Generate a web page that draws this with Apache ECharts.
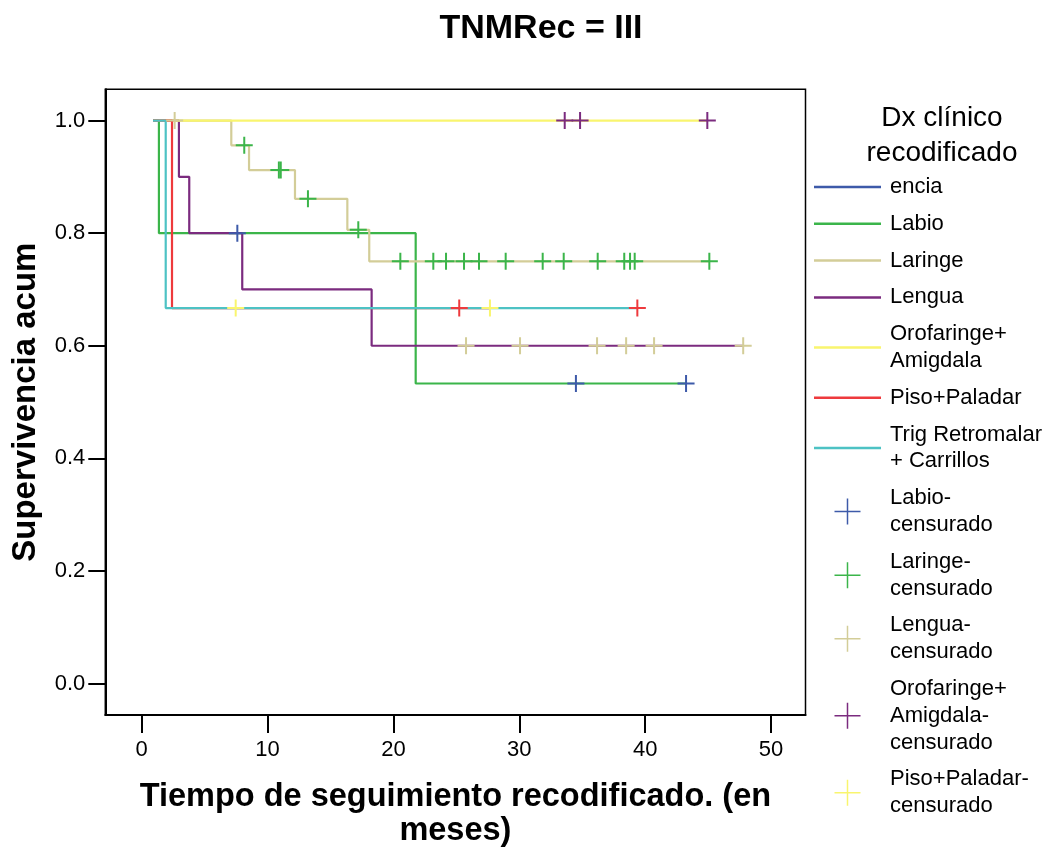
<!DOCTYPE html>
<html>
<head>
<meta charset="utf-8">
<script src="https://cdn.jsdelivr.net/npm/echarts@6/dist/echarts.min.js"></script>
<style>
  html, body { margin: 0; padding: 0; background: #fff; }
  #chart { width: 1058px; height: 853px; }
</style>
</head>
<body>
<div id="chart"></div>
<script>
// Kaplan-Meier step curves: [time, cumulative survival] at each step
const labioCurve   = [[0.9, 1], [1.37, 0.8], [21.77, 0.533], [43.25, 0.533]];
const laringeCurve = [[0.9, 1], [7.12, 0.956], [8.53, 0.912], [12.18, 0.861], [16.34, 0.806], [18.08, 0.75], [45.1, 0.75]];
const lenguaCurve  = [[0.9, 1], [2.96, 0.9], [3.78, 0.8], [7.99, 0.7], [18.27, 0.6], [47.79, 0.6]];
const oroCurve     = [[0.9, 1], [44.94, 1]];
const pisoCurve    = [[0.9, 1], [2.41, 0.667], [27.67, 0.667]];
const trigCurve    = [[0.9, 1], [1.91, 0.667], [39.38, 0.667]];
const enciaCurve   = [];

// Censored observations
const labioCens   = [[7.6, 0.8], [34.5, 0.533], [43.25, 0.533]];
const laringeCens = [[8.15, 0.956], [10.9, 0.912], [11.05, 0.912], [13.21, 0.861], [17.21, 0.806],
                     [20.55, 0.75], [23.17, 0.75], [24.18, 0.75], [25.61, 0.75], [26.8, 0.75], [28.92, 0.75],
                     [31.86, 0.75], [33.53, 0.75], [36.23, 0.75], [38.34, 0.75], [38.8, 0.75], [39.17, 0.75], [45.1, 0.75]];
const lenguaCens  = [[2.62, 1], [25.77, 0.6], [30.06, 0.6], [36.18, 0.6], [38.49, 0.6], [40.71, 0.6], [47.79, 0.6]];
const oroCens     = [[33.61, 1], [34.83, 1], [44.94, 1]];
const pisoCens    = [[7.47, 0.667], [27.67, 0.667]];
const trigCens    = [[25.23, 0.667], [39.38, 0.667]];

// Axis ticks
const xTicks = [0, 10, 20, 30, 40, 50];
const yTicks = [0, 0.2, 0.4, 0.6, 0.8, 1.0];

// Legend names and their displayed (wrapped) text
const legendText = {
  'encia': 'encia',
  'Labio': 'Labio',
  'Laringe': 'Laringe',
  'Lengua': 'Lengua',
  'Orofaringe+Amigdala': 'Orofaringe+\nAmigdala',
  'Piso+Paladar': 'Piso+Paladar',
  'Trig Retromalar + Carrillos': 'Trig Retromalar\n+ Carrillos',
  'Labio-censurado': 'Labio-\ncensurado',
  'Laringe-censurado': 'Laringe-\ncensurado',
  'Lengua-censurado': 'Lengua-\ncensurado',
  'Orofaringe+Amigdala-censurado': 'Orofaringe+\nAmigdala-\ncensurado',
  'Piso+Paladar-censurado': 'Piso+Paladar-\ncensurado'
};

const C = {
  blue: '#3d5aa9', green: '#3bb54a', tan: '#d3cd98', purple: '#7b2b7f',
  yellow: '#f9f56e', red: '#ee3a3d', cyan: '#4dc2c4'
};

const FONT = '"Liberation Sans", Arial, sans-serif';
const PLUS = 'path://M7.5,0H9.5V7.5H17V9.5H9.5V17H7.5V9.5H0V7.5H7.5Z';
const PLUS_LEGEND = 'path://M13.2,0H14.8V13.2H28V14.8H14.8V28H13.2V14.8H0V13.2H13.2Z';
const LINE_LEGEND = 'path://M0,0H67V2.5H0Z';

function curve(name, data, color) {
  return {
    name, type: 'line', step: 'end', data, symbol: 'none', showSymbol: false,
    lineStyle: { color, width: 2.2 }, itemStyle: { color }, animation: false, silent: true
  };
}
function cens(name, data, color) {
  return {
    name, type: 'scatter', data, symbol: PLUS, symbolSize: 17,
    itemStyle: { color, opacity: 1 }, animation: false, silent: true, z: 3
  };
}

const lineNames = ['encia', 'Labio', 'Laringe', 'Lengua', 'Orofaringe+Amigdala', 'Piso+Paladar', 'Trig Retromalar + Carrillos'];
const censNames = ['Labio-censurado', 'Laringe-censurado', 'Lengua-censurado', 'Orofaringe+Amigdala-censurado', 'Piso+Paladar-censurado'];

const chart = echarts.init(document.getElementById('chart'), null, { renderer: 'canvas' });

chart.setOption({
  backgroundColor: '#fff',
  animation: false,
  textStyle: { fontFamily: FONT },
  title: [
    {
      text: 'TNMRec = III', left: 536, top: 7, textAlign: 'center',
      textStyle: { fontFamily: FONT, fontWeight: 'bold', fontSize: 34, color: '#000' }
    },
    {
      text: 'Dx clínico\nrecodificado', left: 937, top: 96, textAlign: 'center',
      textStyle: { fontFamily: FONT, fontWeight: 'normal', fontSize: 28, lineHeight: 35, color: '#000' }
    }
  ],
  grid: {
    left: 105.3, top: 89.3, width: 700.2, height: 629,
    show: true, borderColor: '#000', borderWidth: 1.5, backgroundColor: 'transparent'
  },
  legend: {
    orient: 'vertical', left: 814, top: 173.6, padding: 0,
    itemWidth: 67, itemHeight: 26, itemGap: 10,
    selectedMode: false,
    data: lineNames.map(n => ({ name: n, icon: LINE_LEGEND }))
      .concat(censNames.map(n => ({ name: n, icon: PLUS_LEGEND }))),
    formatter: n => legendText[n],
    textStyle: { fontFamily: FONT, fontSize: 22, lineHeight: 26.8, color: '#000', padding: [0, 0, 0, 4] }
  },
  xAxis: {
    type: 'value', min: -2.89, max: 52.74,
    name: 'Tiempo de seguimiento recodificado. (en\nmeses)',
    nameLocation: 'middle', nameGap: 65,
    nameTextStyle: { fontFamily: FONT, fontWeight: 'bold', fontSize: 32.5, lineHeight: 34, color: '#000' },
    axisLine: { show: true, onZero: false, lineStyle: { color: '#000', width: 2 } },
    axisTick: { show: true, inside: false, length: 18, customValues: xTicks, lineStyle: { color: '#000', width: 2 } },
    axisLabel: { customValues: xTicks, margin: 24, fontFamily: FONT, fontSize: 22, color: '#000' },
    splitLine: { show: false }
  },
  yAxis: {
    type: 'value', min: -0.0558, max: 1.0555,
    name: 'Supervivencia acum',
    nameLocation: 'middle', nameGap: 63, nameRotate: 90,
    nameTextStyle: { fontFamily: FONT, fontWeight: 'bold', fontSize: 33, color: '#000' },
    axisLine: { show: true, onZero: false, lineStyle: { color: '#000', width: 2 } },
    axisTick: { show: true, inside: false, length: 17, customValues: yTicks, lineStyle: { color: '#000', width: 2 } },
    axisLabel: { customValues: yTicks, margin: 20, fontFamily: FONT, fontSize: 22, color: '#000',
                 formatter: v => v.toFixed(1) },
    splitLine: { show: false }
  },
  series: [
    curve('encia', enciaCurve, C.blue),
    curve('Labio', labioCurve, C.green),
    curve('Laringe', laringeCurve, C.tan),
    curve('Lengua', lenguaCurve, C.purple),
    curve('Orofaringe+Amigdala', oroCurve, C.yellow),
    curve('Piso+Paladar', pisoCurve, C.red),
    curve('Trig Retromalar + Carrillos', trigCurve, C.cyan),
    cens('Labio-censurado', labioCens, C.blue),
    cens('Laringe-censurado', laringeCens, C.green),
    cens('Lengua-censurado', lenguaCens, C.tan),
    cens('Orofaringe+Amigdala-censurado', oroCens, C.purple),
    cens('Piso+Paladar-censurado', pisoCens, C.yellow),
    cens('Trig Retromalar + Carrillos-censurado', trigCens, C.red)
  ]
});
</script>
</body>
</html>
